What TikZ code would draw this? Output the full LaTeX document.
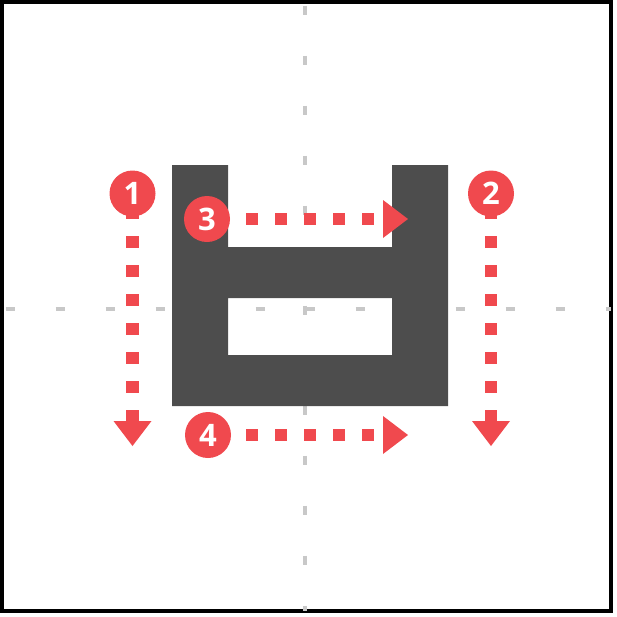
\documentclass[tikz,border=0pt]{standalone}
\usepackage{fontspec}
\setmainfont{Open Sans}
\usetikzlibrary{arrows.meta}
\definecolor{markred}{HTML}{F0494E}
\definecolor{glyphgray}{HTML}{4D4D4D}
\definecolor{guidegray}{HTML}{C8C8C8}

\begin{document}
\begin{tikzpicture}[x=0.5pt, y=-0.5pt,
  guide/.style={guidegray, line width=2pt, dash pattern=on 4.5pt off 20.5pt},
  dotline/.style={markred, line width=6.2pt, dash pattern=on 6pt off 8.5pt,
    -{Triangle[length=12.5pt, width=19pt, line width=0pt]}},
  badge/.style={circle, fill=markred, text=white, minimum size=23pt, inner sep=0pt,
    font=\fontsize{15.5}{15.5}\selectfont\bfseries}]
  \useasboundingbox (0,0) rectangle (617,617);
  \draw[line width=2pt] (2,2) rectangle (610.5,610.5);
  % centre guides
  \draw[guide] (305,5.5) -- (305,611);
  \draw[guide] (5.5,308.5) -- (611,308.5);
  % glyph
  \fill[glyphgray, even odd rule] (172,165) -- (228,165) -- (228,247) -- (392,247)
    -- (392,165) -- (448,165) -- (448,406) -- (172,406) -- cycle
    (228,298) rectangle (392,355);
  % badge centres and arrow ends
  \coordinate (c1) at (132.5,193.5);
  \coordinate (c2) at (491,193.5);
  \coordinate (c3) at (207,219);
  \coordinate (c4) at (208,435);
  \coordinate (e1) at (132.5,446);
  \coordinate (e2) at (491,446);
  \coordinate (e3) at (408,219);
  \coordinate (e4) at (408,435);
  \draw[dotline, dash phase=7.75pt] (c1) -- (e1);
  \draw[dotline, dash phase=7.75pt] (c2) -- (e2);
  \draw[dotline, dash phase=9.5pt] (c3) -- (e3);
  \draw[dotline, dash phase=10pt] (c4) -- (e4);
  \node[badge] (n1) at (c1) {1};
  \node[badge] (n2) at (c2) {2};
  \node[badge] (n3) at (c3) {3};
  \node[badge] (n4) at (c4) {4};
\end{tikzpicture}
\end{document}
